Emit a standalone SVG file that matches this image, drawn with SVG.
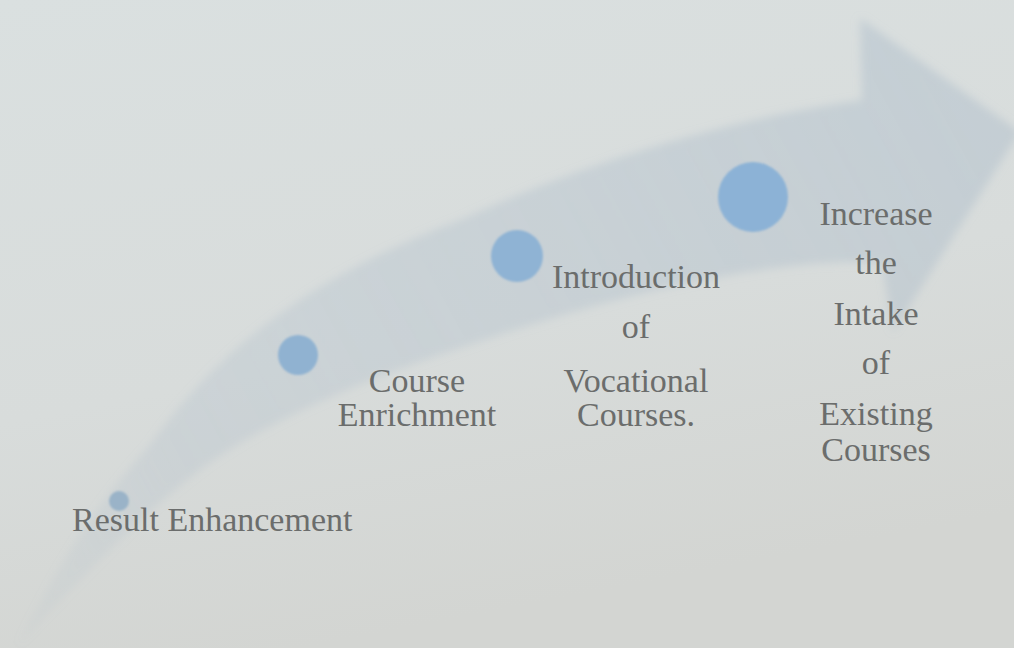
<svg xmlns="http://www.w3.org/2000/svg" width="1014" height="648" viewBox="0 0 1014 648">
  <defs>
    <linearGradient id="bg" x1="0" y1="0" x2="0.3" y2="1">
      <stop offset="0" stop-color="#dae0e0"/>
      <stop offset="0.6" stop-color="#d8dcdb"/>
      <stop offset="1" stop-color="#d3d5d2"/>
    </linearGradient>
    <linearGradient id="band" gradientUnits="userSpaceOnUse" x1="18" y1="646" x2="1000" y2="110">
      <stop offset="0" stop-color="#a3b5c6" stop-opacity="0.08"/>
      <stop offset="0.2" stop-color="#a3b5c6" stop-opacity="0.22"/>
      <stop offset="1" stop-color="#a3b5c6" stop-opacity="0.38"/>
    </linearGradient>
    <filter id="soft" x="-10%" y="-10%" width="120%" height="120%">
      <feGaussianBlur stdDeviation="4"/>
    </filter>
    <filter id="dotsoft" x="-20%" y="-20%" width="140%" height="140%">
      <feGaussianBlur stdDeviation="0.8"/>
    </filter>
    <style>
      .lbl { font-family: "Liberation Serif", "Times New Roman", serif; font-size: 34px; fill: #6b6d6c; }
      .mid { text-anchor: middle; }
      .dot { filter: url(#dotsoft); }
    </style>
  </defs>

  <rect width="1014" height="648" fill="url(#bg)"/>

  <g id="arrow">
    <path filter="url(#soft)" fill="url(#band)" d="M18 646 C50 580 90 510 150 445 C210 360 300 280 460 220 C580 165 720 120 862 100 L860 18 L1020 132 L893 332 L882 262 C760 258 600 300 470 345 C360 380 260 425 200 470 C140 515 70 590 18 646 Z"/>
  </g>

  <g id="node-result">
    <circle class="dot" cx="119" cy="501" r="10" fill="#9ab3c8"/>
    <text class="lbl" x="72" y="531">Result Enhancement</text>
  </g>

  <g id="node-course">
    <circle class="dot" cx="298" cy="355" r="20" fill="#90b2d1"/>
    <text class="lbl mid" x="417" y="392">Course</text>
    <text class="lbl mid" x="417" y="426">Enrichment</text>
  </g>

  <g id="node-vocational">
    <circle class="dot" cx="517" cy="256" r="26" fill="#8fb3d4"/>
    <text class="lbl mid" x="636" y="288">Introduction</text>
    <text class="lbl mid" x="636" y="338">of</text>
    <text class="lbl mid" x="636" y="392">Vocational</text>
    <text class="lbl mid" x="636" y="426">Courses.</text>
  </g>

  <g id="node-intake">
    <circle class="dot" cx="753" cy="197" r="35" fill="#8cb2d6"/>
    <text class="lbl mid" x="876" y="225">Increase</text>
    <text class="lbl mid" x="876" y="274">the</text>
    <text class="lbl mid" x="876" y="325">Intake</text>
    <text class="lbl mid" x="876" y="374">of</text>
    <text class="lbl mid" x="876" y="425">Existing</text>
    <text class="lbl mid" x="876" y="461">Courses</text>
  </g>
</svg>
